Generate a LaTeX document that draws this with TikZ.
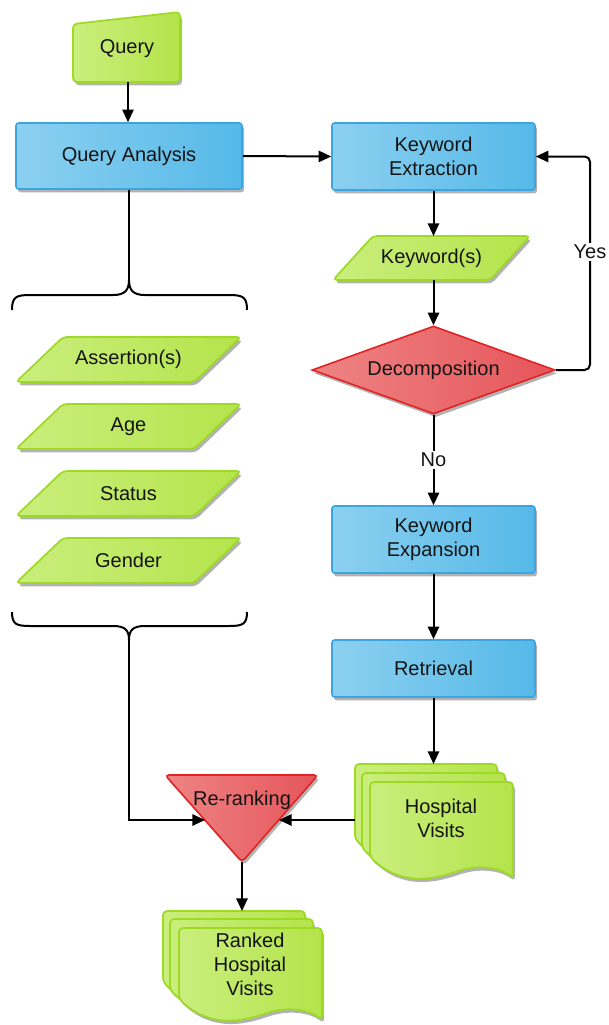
\documentclass[tikz,border=0pt]{standalone}
\usepackage{fontspec}
\setmainfont{Liberation Sans}
\usetikzlibrary{arrows.meta,shapes.geometric,shadows}
\definecolor{bluel}{RGB}{140,208,240}
\definecolor{blued}{RGB}{85,185,232}
\definecolor{blueb}{RGB}{60,165,225}
\definecolor{greenl}{RGB}{202,238,125}
\definecolor{greend}{RGB}{180,228,75}
\definecolor{greenb}{RGB}{158,218,36}
\definecolor{redl}{RGB}{238,132,132}
\definecolor{redd}{RGB}{230,85,90}
\definecolor{redb}{RGB}{225,35,35}
\tikzset{
  txt/.style={font=\fontsize{15}{18}\selectfont, align=center, text=black!92},
  shad/.style={drop shadow={shadow xshift=1.5pt, shadow yshift=-2.5pt, opacity=.3, fill=black}},
  bbox/.style={rectangle, draw=blueb, line width=1.2pt, left color=bluel, right color=blued,
    rounded corners=2pt, shad, txt, minimum width=152.25pt, minimum height=50.25pt, inner sep=0pt},
  gshape/.style={draw=greenb, line width=1.3pt, left color=greenl, right color=greend,
    rounded corners=3pt, shad},
  rshape/.style={draw=redb, line width=1.2pt, left color=redl, right color=redd,
    rounded corners=3pt, shad},
  conn/.style={draw=black, line width=1.5pt, -{Triangle[length=9.5pt,width=8.5pt]}},
  plain/.style={draw=black, line width=1.5pt},
  lbl/.style={txt, fill=white, inner sep=1.5pt},
}
% parallelogram: name, x of bottom-left, y top, width, height, slant, text
\newcommand\paral[7]{%
  \path[gshape] (#2,#3+#5) -- ++(#4,0) -- ++(#6,-#5) -- ++(-#4,0) -- cycle;
  \node[txt] (#1) at (#2+0.5*#4+0.5*#6, #3+0.5*#5) {#7};}
% document page: x0, y0 (top-left), width, right height
\newcommand\docpage[4]{%
  \path[gshape] (#1,#2) -- (#1+#3,#2) -- (#1+#3,#2+#4)
    .. controls (#1+#3-13,#2+#4-10) and (#1+#3-33,#2+#4-14) .. (#1+#3-58,#2+#4-6)
    .. controls (#1+#3-83,#2+#4+2) and (#1+#3-113,#2+#4+7) .. (#1,#2+#4-21) -- cycle;}
\begin{document}
\begin{tikzpicture}[x=0.75pt,y=-0.75pt]
\useasboundingbox (0,0) rectangle (608,1025);

% Query (manual input)
\path[gshape] (73,24) -- (180,12) -- (180,82) -- (73,82) -- cycle;
\node[txt] (Q) at (127,49) {Query};
\coordinate (qB) at (128,82);

% blue boxes
\node[bbox, minimum width=169.5pt, minimum height=49.5pt] (QA) at (129,156) {Query Analysis};
\node[bbox] (KE) at (433.5,156.5) {Keyword\\Extraction};
\node[bbox] (KX) at (433.5,539.5) {Keyword\\Expansion};
\node[bbox, minimum height=42.75pt] (RT) at (433.5,668.5) {Retrieval};

% Keyword(s)
\paral{KW}{333}{236}{157}{44}{40}{Keyword(s)}
\coordinate (kwT) at (433.5,236);
\coordinate (kwB) at (433.5,280);

% Decomposition
\node[diamond, draw=redb, line width=1.2pt, left color=redl, right color=redd, shad, txt,
  aspect=2.76, minimum width=182.25pt, minimum height=66pt, inner sep=0pt] (Dec) at (433.5,370) {Decomposition};

% left parallelograms
\paral{AS}{16}{337}{178}{45}{47}{Assertion(s)}
\paral{AG}{16}{404}{178}{45}{47}{Age}
\paral{ST}{16}{471}{178}{45}{47}{Status}
\paral{GE}{16}{538}{178}{45}{47}{Gender}

% Hospital Visits (multi-document)
\docpage{355}{764}{142}{96}
\docpage{362}{773}{143}{96}
\docpage{370}{782}{143}{96}
\node[txt] (HV) at (441,818) {Hospital\\Visits};
\coordinate (hvT) at (433.5,764);
\coordinate (hvL) at (355,820);

% Re-ranking
\path[rshape] (165,775) -- (318,775) -- (242,862) -- cycle;
\node[txt] (RR) at (242,800) {Re-ranking};
\coordinate (rrL) at (205,820);
\coordinate (rrR) at (279,820);
\coordinate (rrB) at (242,862);

% Ranked Hospital Visits
\docpage{163}{911}{142}{92}
\docpage{170}{919}{143}{92}
\docpage{179}{928}{143}{92}
\node[txt] (RK) at (250,964) {Ranked\\Hospital\\Visits};
\coordinate (rkT) at (242,911);

% braces
\coordinate (ubT) at (129,280);
\coordinate (lbT) at (129,640);
\draw[plain] (QA.south) -- (ubT);
\draw[plain] (12,310) .. controls (12,297) and (16,295) .. (30,295) -- (113,295)
  .. controls (125,295) and (129,290) .. (ubT)
  .. controls (129,290) and (133,295) .. (145,295) -- (229,295)
  .. controls (243,295) and (247,297) .. (247,310);
\draw[plain] (12,612) .. controls (12,624) and (16,626) .. (30,626) -- (113,626)
  .. controls (125,626) and (129,630) .. (lbT)
  .. controls (129,630) and (133,626) .. (145,626) -- (229,626)
  .. controls (243,626) and (247,624) .. (247,612);

% connectors
\draw[conn] (qB) -- (qB |- QA.north);
\draw[conn] (QA.east) -- (KE.west);
\draw[conn] (KE.south) -- (kwT);
\draw[conn] (kwB) -- (Dec.north);
\coordinate (yesX) at (590,252);
\draw[conn, rounded corners=4pt] (Dec.east) -| (yesX) node[lbl] {Yes} |- (KE.east);
\draw[conn] (Dec.south) -- node[lbl] {No} (KX.north);
\draw[conn] (KX.south) -- (RT.north);
\draw[conn] (RT.south) -- (hvT);
\draw[conn] (hvL) -- (rrR);
\draw[conn] (lbT) |- (rrL);
\draw[conn] (rrB) -- (rkT);
\end{tikzpicture}
\end{document}
